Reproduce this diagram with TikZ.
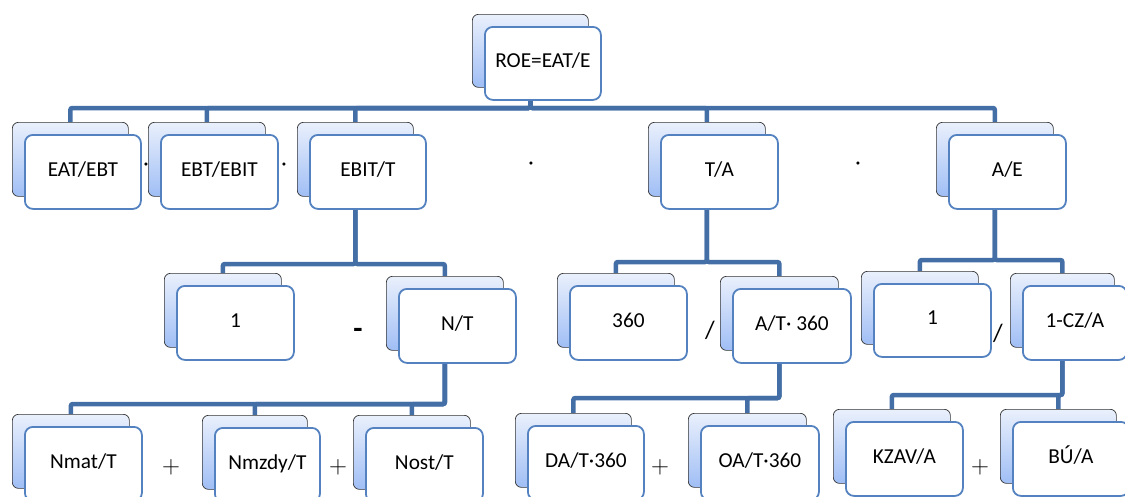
\documentclass[tikz,border=0pt]{standalone}
\usepackage{fontspec}
\setmainfont{Carlito}
\usetikzlibrary{backgrounds}

\definecolor{linkblue}{RGB}{67,110,166}
\definecolor{edgeblue}{RGB}{84,130,192}
\definecolor{shadetop}{RGB}{234,240,252}
\definecolor{shadebot}{RGB}{160,190,245}

\newcommand\labelfont{\fontsize{21.3}{25}\selectfont}

% a card: shaded back plate with a white front plate laid over it
% #1 name, #2 x, #3 y (top-left of the back plate), #4 width, #5 height, #6 label
\newcommand\cardpair[6]{%
  \node[backcard, minimum width=#4pt, minimum height=#5pt] (#1b) at (#2,#3) {};
  \node[frontcard, minimum width=#4pt, minimum height=#5pt] (#1) at ([shift={(12,12)}]#1b.north west) {#6};
}

\begin{document}
\begin{tikzpicture}[x=1pt,y=-1pt,
  backcard/.style={draw=black!80, line width=0.7pt, rounded corners=6pt,
    top color=shadetop, bottom color=shadebot, anchor=north west, inner sep=0pt},
  frontcard/.style={draw=edgeblue, line width=1.8pt, rounded corners=8pt,
    fill=white, anchor=north west, inner sep=0pt, font=\labelfont,
    text height=13pt, text depth=4pt},
  link/.style={draw=linkblue, line width=4.5pt, rounded corners=2pt},
  op/.style={inner sep=0pt, font=\labelfont},
  plus/.style={inner sep=0pt, font=\fontsize{24}{24}\selectfont}
]
\useasboundingbox (0,0) rectangle (1125,496);

% top level
\cardpair{roe}{472}{14}{116}{73}{ROE=EAT/E}

% second level
\cardpair{eat}{12}{122}{116}{74}{EAT/EBT}
\cardpair{ebt}{148}{122}{117}{74}{EBT/EBIT}
\cardpair{ebit}{297}{122}{116}{74}{EBIT/T}
\cardpair{ta}{648}{122}{117}{74}{T/A}
\cardpair{ae}{936}{122}{117}{74}{A/E}

% third level
\cardpair{one}{164}{273}{117}{74}{1}
\cardpair{nt}{386}{276}{117}{74}{N/T}
\cardpair{days}{557}{273}{117}{74}{360}
\cardpair{at}{720}{276}{118}{74}{A/T· 360}
\cardpair{onb}{861}{271}{117}{73}{1}
\cardpair{cz}{1010}{273}{104}{74}{1-CZ/A}

% fourth level
\cardpair{nmat}{12}{414}{117}{74}{Nmat/T}
\cardpair{nmz}{202}{415}{105}{74}{Nmzdy/T}
\cardpair{nost}{353}{415}{117}{74}{Nost/T}
\cardpair{da}{515}{413}{116}{74}{DA/T·360}
\cardpair{oa}{688}{413}{118}{74}{OA/T·360}
\cardpair{kzav}{833}{409}{117}{74}{KZAV/A}
\cardpair{bu}{1000}{409}{116}{74}{BÚ/A}

% levels of the horizontal bars
\coordinate (barA) at (530,108);
\coordinate (barB) at (355,264);
\coordinate (barC) at (706,262);
\coordinate (barD) at (994,260);
\coordinate (barE) at (444,404);
\coordinate (barF) at (779,398);
\coordinate (barG) at (1062,395);

% operators between the cards
\node[op] (dot1) at (146,167) {·};
\node[op] (dot2) at (284,167) {·};
\node[op] (dot3) at (531,166) {·};
\node[op] (dot4) at (858,166) {·};
\node[op, font=\fontsize{30}{30}\selectfont\bfseries] (minus) at (358,333) {-};
\node[op, font=\fontsize{25}{25}\selectfont] (slash1) at (710,330) {/};
\node[op, font=\fontsize{25}{25}\selectfont] (slash2) at (998,333) {/};
\node[plus] (plus1) at (171,467) {$+$};
\node[plus] (plus2) at (338,467) {$+$};
\node[plus] (plus3) at (660,467) {$+$};
\node[plus] (plus4) at (980,467) {$+$};

% connectors, behind the cards
\begin{scope}[on background layer]
  \foreach \c in {eat,ebt,ebit,ta,ae}
    \draw[link] (roeb.center) -- (roeb.center |- barA) -| (\c b.north);
  \foreach \c in {one,nt}
    \draw[link] (ebitb.center) -- (ebitb.center |- barB) -| (\c b.north);
  \foreach \c in {days,at}
    \draw[link] (tab.center) -- (tab.center |- barC) -| (\c b.north);
  \foreach \c in {onb,cz}
    \draw[link] (aeb.center) -- (aeb.center |- barD) -| (\c b.north);
  \foreach \c in {nmat,nmz,nost}
    \draw[link] (ntb.center) -- (ntb.center |- barE) -| (\c b.north);
  \foreach \c in {da,oa}
    \draw[link] (atb.center) -- (atb.center |- barF) -| (\c b.north);
  \foreach \c in {kzav,bu}
    \draw[link] (czb.center) -- (czb.center |- barG) -| (\c b.north);
\end{scope}
\end{tikzpicture}
\end{document}
